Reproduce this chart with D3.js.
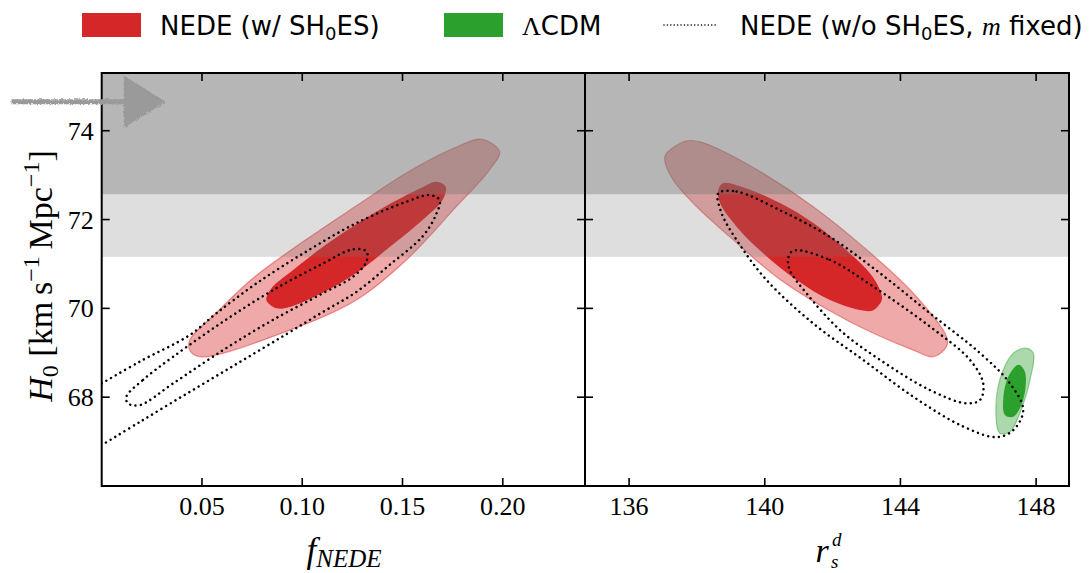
<!DOCTYPE html>
<html><head><meta charset="utf-8">
<script src="https://cdn.jsdelivr.net/npm/d3@7"></script>
<style>body{margin:0;background:#fff;} svg{display:block;}</style>
</head><body>
<script>
// ---------------- data ----------------
const yDomain = [66.0, 75.3];
const yTicks = [68, 70, 72, 74];
const fDomain = [0, 0.241];
const fTicks = [0.05, 0.10, 0.15, 0.20];
const rDomain = [134.7, 148.97];
const rTicks = [136, 140, 144, 148];
const shoesBandWide = [71.16, 80];
const shoesBandNarrow = [72.57, 80];
const arrowH0 = 74.65;

// NEDE (w/ SH0ES), f_NEDE vs H0
const nedeF_outer = [[0.1893,73.81],[0.1984,73.53],[0.1934,73.12],[0.1768,72.29],[0.1519,71.09],[0.127,70.19],[0.0937,69.51],[0.0489,68.91],[0.0439,69.06],[0.0439,69.29],[0.0560,69.85],[0.0760,70.70],[0.1010,71.52],[0.127,72.31],[0.1519,73.05],[0.1768,73.63]];
const nedeF_inner = [[0.0821,70.19],[0.0846,70.45],[0.0937,70.80],[0.1102,71.38],[0.1271,71.90],[0.1436,72.35],[0.1600,72.73],[0.1670,72.85],[0.1715,72.74],[0.1700,72.44],[0.1600,71.99],[0.1436,71.38],[0.1271,70.80],[0.1102,70.35],[0.0937,70.03],[0.0872,70.00]];
// NEDE (w/o SH0ES, m fixed), f_NEDE vs H0
const nedeNoF_outer = [[0.000,68.31],[0.0189,68.80],[0.0439,69.40],[0.0572,69.89],[0.0771,70.56],[0.1020,71.28],[0.1270,71.92],[0.1519,72.40],[0.1635,72.55],[0.1685,72.44],[0.1668,72.12],[0.1602,71.63],[0.1436,70.98],[0.1270,70.37],[0.1103,69.92],[0.0921,69.42],[0.0688,68.79],[0.0439,68.12],[0.0189,67.44],[0.000,66.92]];
const nedeNoF_inner = [[0.0123,68.01],[0.0206,68.39],[0.0356,68.91],[0.0605,69.70],[0.0854,70.41],[0.1103,71.01],[0.1253,71.33],[0.1320,71.28],[0.1320,71.05],[0.1253,70.71],[0.1103,70.34],[0.0854,69.74],[0.0605,69.06],[0.0356,68.31],[0.0189,67.82],[0.0131,67.86]];
// NEDE (w/ SH0ES), r_s^d vs H0
const nedeR_outer = [[137.69,73.77],[137.10,73.49],[137.05,73.34],[137.30,72.89],[137.99,72.29],[138.97,71.61],[140.45,70.65],[142.41,69.74],[144.38,69.06],[144.97,68.91],[145.36,69.14],[145.36,69.36],[144.38,70.34],[142.90,71.39],[141.43,72.29],[139.95,73.04],[138.68,73.57],[138.09,73.75]];
const nedeR_inner = [[138.77,72.82],[139.46,72.70],[140.45,72.37],[141.43,71.92],[142.41,71.31],[143.10,70.79],[143.40,70.41],[143.45,70.19],[143.20,69.96],[142.90,69.95],[141.92,70.19],[140.94,70.64],[139.95,71.24],[139.17,71.84],[138.68,72.37],[138.63,72.67]];
// LCDM, r_s^d vs H0
const lcdmR_outer = [[147.72,69.10],[147.92,68.99],[147.82,68.39],[147.52,67.64],[147.23,67.22],[146.93,67.19],[146.82,67.56],[146.93,68.39],[147.33,68.99]];
const lcdmR_inner = [[147.48,68.73],[147.67,68.57],[147.62,67.94],[147.33,67.56],[147.08,67.60],[147.03,67.94],[147.18,68.46]];
// NEDE (w/o SH0ES, m fixed), r_s^d vs H0
const nedeNoR_outer = [[138.63,72.59],[139.17,72.63],[140.45,72.21],[141.92,71.61],[143.40,70.79],[144.87,69.89],[146.35,68.99],[147.23,68.31],[147.62,67.71],[147.33,67.26],[146.84,67.10],[145.85,67.34],[144.38,68.01],[142.90,68.84],[141.43,69.66],[140.05,70.64],[139.17,71.54],[138.73,72.14]];
const nedeNoR_inner = [[140.84,71.30],[141.92,71.09],[143.20,70.49],[144.87,69.59],[146.05,68.84],[146.44,68.31],[146.35,67.94],[145.95,67.86],[144.87,68.16],[143.40,68.84],[142.22,69.51],[141.23,70.34],[140.74,70.86],[140.69,71.13]];

// ---------------- layout ----------------
const W = 1089, H = 573;
const yTop = 73, yBot = 486;
const panels = [
  {x0: 101.7, x1: 585, domain: fDomain, ticks: fTicks, fmt: d3.format(".2f"), id: "pf"},
  {x0: 585, x1: 1069, domain: rDomain, ticks: rTicks, fmt: d3.format("d"), id: "pr"}
];
const RED = "#d62728", GREEN = "#2ca02c";
const serif = "'Liberation Serif','DejaVu Serif',serif";
const sans = "'DejaVu Sans','Liberation Sans',sans-serif";

const svg = d3.select("body").append("svg").attr("width", W).attr("height", H);
const defs = svg.append("defs");
const rough = defs.append("filter").attr("id","rough").attr("x","-10%").attr("y","-30%").attr("width","120%").attr("height","160%");
rough.append("feTurbulence").attr("type","fractalNoise").attr("baseFrequency","0.6").attr("numOctaves",2).attr("seed",3).attr("result","n");
rough.append("feDisplacementMap").attr("in","SourceGraphic").attr("in2","n").attr("scale",4);

const y = d3.scaleLinear().domain(yDomain).range([yBot, yTop]);
panels.forEach(p => { p.x = d3.scaleLinear().domain(p.domain).range([p.x0, p.x1]); });

panels.forEach(p => {
  defs.append("clipPath").attr("id", "clip-" + p.id).append("rect")
    .attr("x", p.x0).attr("y", yTop).attr("width", p.x1 - p.x0).attr("height", yBot - yTop);
});

function closedPath(p, pts) {
  return d3.line().x(d => p.x(d[0])).y(d => y(d[1])).curve(d3.curveCatmullRomClosed.alpha(0.5))(pts);
}
function openPath(p, pts) {
  return d3.line().x(d => p.x(d[0])).y(d => y(d[1])).curve(d3.curveCatmullRom.alpha(0.5))(pts);
}

function drawFilled(g, p, outer, inner, color) {
  g.append("path").attr("d", closedPath(p, outer)).attr("fill", color).attr("fill-opacity", 0.4)
    .attr("stroke", color).attr("stroke-opacity", 0.45).attr("stroke-width", 1.2);
  g.append("path").attr("d", closedPath(p, inner)).attr("fill", color).attr("fill-opacity", 1);
}
function drawDotted(g, d) {
  g.append("path").attr("d", d).attr("fill", "none").attr("stroke", "#000")
    .attr("stroke-width", 2.5).attr("stroke-linecap", "round").attr("stroke-dasharray", "0.01 5.4");
}
function drawBands(g, p) {
  [shoesBandWide, shoesBandNarrow].forEach((b, i) => {
    g.append("rect").attr("x", p.x0).attr("width", p.x1 - p.x0)
      .attr("y", y(b[1])).attr("height", y(b[0]) - y(b[1]))
      .attr("fill", "#767676").attr("fill-opacity", i === 0 ? 0.24 : 0.375);
  });
}

// left panel
const gL = svg.append("g").attr("clip-path", "url(#clip-pf)");
drawFilled(gL, panels[0], nedeF_outer, nedeF_inner, RED);
drawBands(gL, panels[0]);
drawDotted(gL, openPath(panels[0], nedeNoF_outer));
drawDotted(gL, closedPath(panels[0], nedeNoF_inner));

// right panel
const gR = svg.append("g").attr("clip-path", "url(#clip-pr)");
drawFilled(gR, panels[1], nedeR_outer, nedeR_inner, RED);
drawFilled(gR, panels[1], lcdmR_outer, lcdmR_inner, GREEN);
drawBands(gR, panels[1]);
drawDotted(gR, closedPath(panels[1], nedeNoR_outer));
drawDotted(gR, closedPath(panels[1], nedeNoR_inner));

// axes: ticks inward on all sides
const TL = 8;
panels.forEach((p, i) => {
  const g = svg.append("g");
  p.ticks.forEach(t => {
    const xx = p.x(t);
    g.append("line").attr("x1", xx).attr("x2", xx).attr("y1", yBot).attr("y2", yBot - TL).attr("stroke", "#000").attr("stroke-width", 1.6);
    g.append("line").attr("x1", xx).attr("x2", xx).attr("y1", yTop).attr("y2", yTop + TL).attr("stroke", "#000").attr("stroke-width", 1.6);
    g.append("text").attr("x", xx).attr("y", 515).attr("text-anchor", "middle")
      .attr("font-family", serif).attr("font-size", 26).text(p.fmt(t));
  });
  yTicks.forEach(t => {
    const yy = y(t);
    g.append("line").attr("x1", p.x0).attr("x2", p.x0 + TL).attr("y1", yy).attr("y2", yy).attr("stroke", "#000").attr("stroke-width", 1.6);
    g.append("line").attr("x1", p.x1).attr("x2", p.x1 - TL).attr("y1", yy).attr("y2", yy).attr("stroke", "#000").attr("stroke-width", 1.6);
    if (i === 0) {
      g.append("text").attr("x", p.x0 - 8).attr("y", yy + 9).attr("text-anchor", "end")
        .attr("font-family", serif).attr("font-size", 26).text(t);
    }
  });
  g.append("rect").attr("x", p.x0).attr("y", yTop).attr("width", p.x1 - p.x0).attr("height", yBot - yTop)
    .attr("fill", "none").attr("stroke", "#000").attr("stroke-width", 2);
});

// arrow (SH0ES direction marker)
{
  const p = panels[0];
  const ay = y(arrowH0);
  const hh = y(arrowH0 - 0.55) - ay;
  const ga = svg.append("g").attr("filter", "url(#rough)").attr("fill", "#9a9a9a").attr("stroke", "#9a9a9a");
  ga.append("line").attr("x1", p.x(-0.045)).attr("x2", p.x(0.012)).attr("y1", ay).attr("y2", ay).attr("stroke-width", 5);
  ga.append("path").attr("d", `M${p.x(0.0115)},${ay - hh}L${p.x(0.031)},${ay}L${p.x(0.0115)},${ay + hh}Z`).attr("stroke-width", 2);
}

// axis labels
svg.append("text").attr("transform", "translate(52,276) rotate(-90)").attr("text-anchor", "middle")
  .attr("font-family", serif).attr("font-size", 34)
  .html('<tspan font-style="italic">H</tspan><tspan font-size="24" dy="6">0</tspan><tspan dy="-6"> [km\u2009s</tspan><tspan font-size="24" dy="-13">\u22121</tspan><tspan dy="13">\u2009Mpc</tspan><tspan font-size="24" dy="-13">\u22121</tspan><tspan dy="13">]</tspan>');

svg.append("text").attr("x", 344).attr("y", 562).attr("text-anchor", "middle")
  .attr("font-family", serif).attr("font-size", 35).attr("font-style", "italic")
  .html('f<tspan font-size="25" dy="5">NEDE</tspan>');
svg.append("text").attr("x", 822).attr("y", 562).attr("text-anchor", "middle")
  .attr("font-family", serif).attr("font-size", 34).attr("font-style", "italic").text("r");
svg.append("text").attr("x", 831).attr("y", 568)
  .attr("font-family", serif).attr("font-size", 19).attr("font-style", "italic").text("s");
svg.append("text").attr("x", 832).attr("y", 546)
  .attr("font-family", serif).attr("font-size", 19).attr("font-style", "italic").text("d");

// legend
const leg = svg.append("g");
leg.append("rect").attr("x", 82).attr("y", 13).attr("width", 59).attr("height", 24).attr("fill", RED);
leg.append("text").attr("x", 160).attr("y", 35).attr("font-family", sans).attr("font-size", 26)
  .html('NEDE (w/ SH<tspan font-size="18" dy="5">0</tspan><tspan dy="-5">ES)</tspan>');
leg.append("rect").attr("x", 444).attr("y", 13).attr("width", 59).attr("height", 24).attr("fill", GREEN);
leg.append("text").attr("x", 522).attr("y", 35).attr("font-family", sans).attr("font-size", 26)
  .html('<tspan font-family="Liberation Serif">\u039B</tspan>CDM');
leg.append("line").attr("x1", 664).attr("x2", 718).attr("y1", 25).attr("y2", 25).attr("stroke", "#000")
  .attr("stroke-width", 1.6).attr("stroke-linecap", "round").attr("stroke-dasharray", "0.01 3.4");
leg.append("text").attr("x", 740).attr("y", 35).attr("font-family", sans).attr("font-size", 26)
  .html('NEDE (w/o SH<tspan font-size="18" dy="5">0</tspan><tspan dy="-5">ES, </tspan><tspan font-family="Liberation Serif" font-style="italic">m</tspan> fixed)');
</script>
</body></html>
